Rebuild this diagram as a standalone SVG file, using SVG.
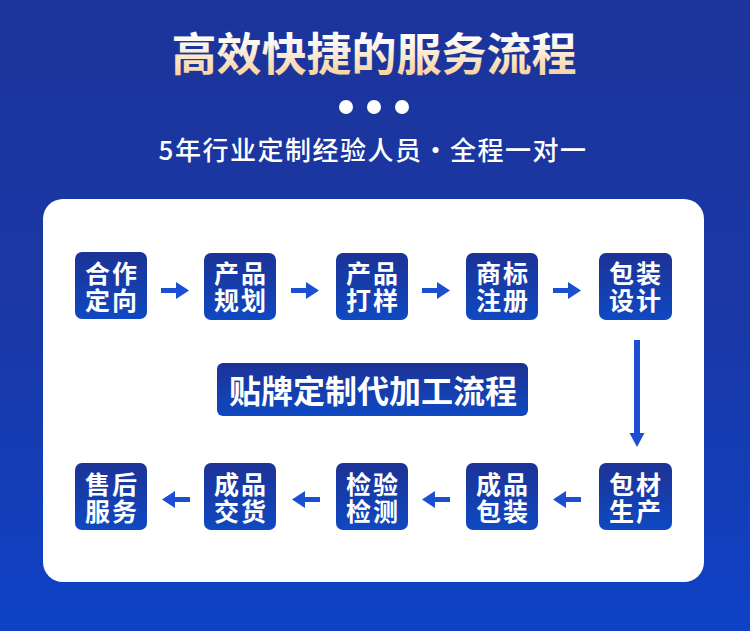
<svg xmlns="http://www.w3.org/2000/svg" width="750" height="631" viewBox="0 0 750 631">
<defs>
<linearGradient id="bg" x1="0" y1="0" x2="0" y2="1">
<stop offset="0" stop-color="#1c349b"/><stop offset="0.5" stop-color="#1a38a6"/><stop offset="1" stop-color="#0e42c6"/>
</linearGradient>
<linearGradient id="box" x1="0" y1="0" x2="0" y2="1">
<stop offset="0" stop-color="#1c3296"/><stop offset="1" stop-color="#0f49c2"/>
</linearGradient>
<linearGradient id="gold" x1="0" y1="0" x2="0" y2="1">
<stop offset="0.25" stop-color="#ffffff"/><stop offset="1" stop-color="#f6c98a"/>
</linearGradient>
</defs>
<style>
.n{fill:url(#box)}
.t{font-family:"Noto Sans CJK SC","Noto Sans",sans-serif;font-weight:700;fill:#fff;text-anchor:middle}
.nt{font-size:25px;letter-spacing:2px}
.ar{fill:#1a4fd2}
</style>
<rect width="750" height="631" fill="url(#bg)"/>
<text class="t" x="374" y="71" font-size="45" style="fill:url(#gold)">高效快捷的服务流程</text>
<g fill="#fff"><circle cx="346" cy="107" r="7"/><circle cx="374" cy="107" r="7"/><circle cx="402" cy="107" r="7"/></g>
<text x="373" y="160" font-family="&quot;Noto Sans CJK SC&quot;,sans-serif" font-size="26" font-weight="500" letter-spacing="1.5" fill="#fff" text-anchor="middle">5年行业定制经验人员・全程一对一</text>
<rect x="43" y="199" width="661" height="383" rx="20" fill="#fff"/>
<g id="title"><rect x="217" y="363" width="311" height="53" rx="6" class="n"/><text class="t" x="373" y="403" font-size="32">贴牌定制代加工流程</text></g>
<g id="n1"><rect x="75" y="252" width="72" height="67" rx="7" class="n"/><text class="t nt"><tspan x="112" y="283">合作</tspan><tspan x="112" y="310">定向</tspan></text></g>
<g id="n2"><rect x="204" y="253" width="72" height="67" rx="7" class="n"/><text class="t nt"><tspan x="241" y="283">产品</tspan><tspan x="241" y="310">规划</tspan></text></g>
<g id="n3"><rect x="336" y="253" width="72" height="67" rx="7" class="n"/><text class="t nt"><tspan x="373" y="283">产品</tspan><tspan x="373" y="310">打样</tspan></text></g>
<g id="n4"><rect x="466" y="253" width="72" height="67" rx="7" class="n"/><text class="t nt"><tspan x="503" y="283">商标</tspan><tspan x="503" y="310">注册</tspan></text></g>
<g id="n5"><rect x="599" y="253" width="73" height="67" rx="7" class="n"/><text class="t nt"><tspan x="636" y="283">包装</tspan><tspan x="636" y="310">设计</tspan></text></g>
<g id="n6"><rect x="599" y="463" width="73" height="67" rx="7" class="n"/><text class="t nt"><tspan x="636" y="494">包材</tspan><tspan x="636" y="521">生产</tspan></text></g>
<g id="n7"><rect x="466" y="463" width="72" height="67" rx="7" class="n"/><text class="t nt"><tspan x="503" y="494">成品</tspan><tspan x="503" y="521">包装</tspan></text></g>
<g id="n8"><rect x="336" y="463" width="72" height="67" rx="7" class="n"/><text class="t nt"><tspan x="373" y="494">检验</tspan><tspan x="373" y="521">检测</tspan></text></g>
<g id="n9"><rect x="204" y="463" width="72" height="67" rx="7" class="n"/><text class="t nt"><tspan x="241" y="494">成品</tspan><tspan x="241" y="521">交货</tspan></text></g>
<g id="n10"><rect x="75" y="463" width="72" height="67" rx="7" class="n"/><text class="t nt"><tspan x="112" y="494">售后</tspan><tspan x="112" y="521">服务</tspan></text></g>
<g id="connectors" class="ar">
<polygon points="161,288 176,288 176,282 189,290.5 176,299 176,293 161,293"/>
<polygon points="291,288 306,288 306,282 319,290.5 306,299 306,293 291,293"/>
<polygon points="422,288 437,288 437,282 450,290.5 437,299 437,293 422,293"/>
<polygon points="553,288 568,288 568,282 581,290.5 568,299 568,293 553,293"/>
<polygon points="634,340 640,340 640,433 644.5,433 637,447 629.5,433 634,433"/>
<polygon points="581,497 566,497 566,491 553,499.5 566,508 566,502 581,502"/>
<polygon points="450,497 435,497 435,491 422,499.5 435,508 435,502 450,502"/>
<polygon points="320,497 305,497 305,491 292,499.5 305,508 305,502 320,502"/>
<polygon points="190,497 175,497 175,491 162,499.5 175,508 175,502 190,502"/>
</g>
</svg>
